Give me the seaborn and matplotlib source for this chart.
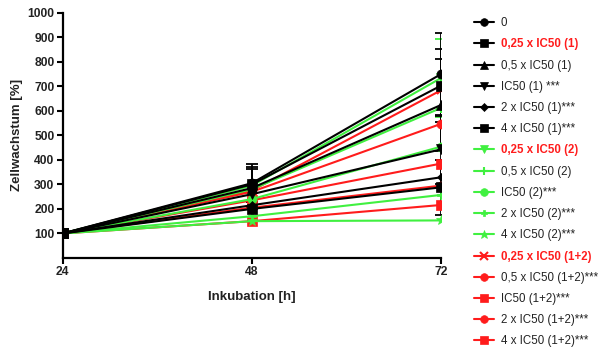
import numpy as np
import pandas as pd
import matplotlib
matplotlib.use("Agg")
import matplotlib.pyplot as plt
from matplotlib.lines import Line2D
import seaborn as sns

# Data
hours = [24, 48, 72]
labels = [
    "0", "0,25 x IC50 (1)", "0,5 x IC50 (1)", "IC50 (1) ***", "2 x IC50 (1)***",
    "4 x IC50 (1)***", "0,25 x IC50 (2)", "0,5 x IC50 (2)", "IC50 (2)***",
    "2 x IC50 (2)***", "4 x IC50 (2)***", "0,25 x IC50 (1+2)", "0,5 x IC50 (1+2)***",
    "IC50 (1+2)***", "2 x IC50 (1+2)***", "4 x IC50 (1+2)***",
]
values = [
    [100, 305, 750], [100, 300, 703], [100, 285, 624], [100, 260, 443],
    [100, 215, 329], [100, 200, 288], [100, 295, 734], [100, 280, 612],
    [100, 240, 454], [100, 170, 257], [100, 150, 153], [100, 275, 684],
    [100, 270, 547], [100, 235, 385], [100, 205, 295], [100, 150, 216],
]
errors = [
    [0, 77, 170], [0, 73, 148], [0, 77, 187], [0, 30, 140],
    [0, 0, 0], [0, 0, 112], [0, 0, 160], [0, 0, 0],
    [0, 0, 0], [0, 0, 0], [0, 0, 0], [0, 0, 0],
    [0, 0, 0], [0, 0, 0], [0, 0, 0], [0, 0, 0],
]
highlight = ["0,25 x IC50 (1)", "0,25 x IC50 (2)", "0,25 x IC50 (1+2)"]

BLACK, GREEN, RED = "#000000", "#40f040", "#ff1c1c"
colors = [BLACK] * 6 + [GREEN] * 5 + [RED] * 5
markers = ["o", "s", "^", "v", "D", "s", "v", "+", "o", "P", "*", "x", "o", "s", "o", "s"]
msizes = [6.5, 6.5, 6.5, 6.5, 4.5, 6.5, 6.5, 7, 6.5, 5.5, 7.5, 6, 6.5, 6.5, 6.5, 6.5]

df = pd.DataFrame([
    {"Inkubation": h, "Wachstum": v, "Gruppe": lab}
    for lab, vals in zip(labels, values) for h, v in zip(hours, vals)
])

sns.set_style("ticks")
plt.rcParams["font.family"] = ["Liberation Sans", "DejaVu Sans"]

fig = plt.figure(figsize=(6.04, 3.49), dpi=100)
ax = fig.add_axes([0.104, 0.261, 0.626, 0.702])

# draw in reverse so the black series end up on top
for i in reversed(range(len(labels))):
    sub = df[df["Gruppe"] == labels[i]]
    sns.lineplot(data=sub, x="Inkubation", y="Wachstum", color=colors[i],
                 marker=markers[i], markersize=msizes[i], markeredgecolor=colors[i],
                 markeredgewidth=1.5 if markers[i] in "+x" else 0.5,
                 linewidth=1.5, ax=ax, zorder=3 + (len(labels) - i) * 0.01,
                 legend=False, errorbar=None)
    if any(errors[i]):
        ax.errorbar(hours, values[i], yerr=errors[i], fmt="none", ecolor=colors[i],
                    elinewidth=1.3, capsize=4, capthick=1.3, zorder=2)

ax.set_xlim(24, 72)
ax.set_ylim(0, 1000)
ax.set_xticks(hours)
ax.set_yticks(np.arange(100, 1001, 100))
for lbl in ax.get_xticklabels() + ax.get_yticklabels():
    lbl.set_fontweight("bold")
    lbl.set_fontsize(8.7)
ax.tick_params(width=1.5, length=4, color="black", pad=2, labelcolor="#222222")
ax.spines["top"].set_visible(False)
ax.spines["right"].set_visible(False)
for s in ("left", "bottom"):
    ax.spines[s].set_linewidth(1.6)
    ax.spines[s].set_color("black")
    ax.spines[s].set_clip_on(False)
ax.set_xlabel("Inkubation [h]", fontweight="bold", fontsize=9.5, color="#222222", labelpad=9)
ax.set_ylabel("Zellwachstum [%]", fontweight="bold", fontsize=9.5, color="#222222", labelpad=3)

handles = [Line2D([0], [0], color=c, marker=m, markersize=ms * 0.85, linewidth=1.5,
                  markeredgecolor=c, markeredgewidth=1.5 if m in "+x" else 0.5)
           for c, m, ms in zip(colors, markers, msizes)]
leg = fig.legend(handles, labels, loc="upper left", bbox_to_anchor=(0.785, 0.951),
                 frameon=False, fontsize=8.3, handlelength=1.7, handletextpad=0.6,
                 labelspacing=0.80, borderaxespad=0, borderpad=0)
for t in leg.get_texts():
    if t.get_text() in highlight:
        t.set_color(RED)
        t.set_fontweight("bold")
    else:
        t.set_color("#222222")

fig.savefig("out.png", dpi=100)
